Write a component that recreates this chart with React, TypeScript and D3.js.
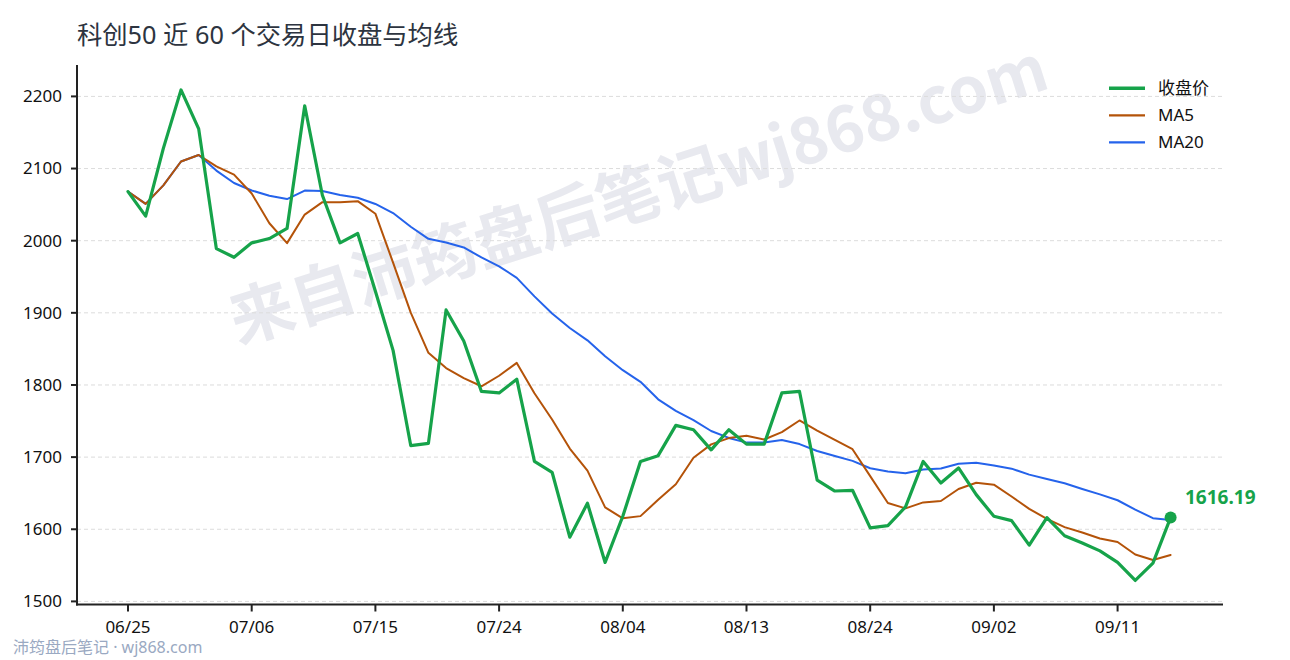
import React from 'react';
import * as d3 from 'd3';

const TITLE = '科创50 近 60 个交易日收盘与均线';
const WATERMARK = '来自沛筠盘后笔记wj868.com';
const FOOTER = '沛筠盘后笔记 · wj868.com';

const dates = [
  '06/25', '06/26', '06/29', '06/30', '07/01', '07/02', '07/03', '07/06', '07/07', '07/08',
  '07/09', '07/10', '07/13', '07/14', '07/15', '07/16', '07/17', '07/20', '07/21', '07/22',
  '07/23', '07/24', '07/27', '07/28', '07/29', '07/30', '07/31', '08/03', '08/04', '08/05',
  '08/06', '08/07', '08/10', '08/11', '08/12', '08/13', '08/14', '08/17', '08/18', '08/19',
  '08/20', '08/21', '08/24', '08/25', '08/26', '08/27', '08/28', '08/31', '09/01', '09/02',
  '09/03', '09/04', '09/07', '09/08', '09/09', '09/10', '09/11', '09/14', '09/15', '09/16',
];

const close = [
  2068, 2034, 2128, 2209, 2155, 1989, 1977, 1997, 2003, 2017,
  2187, 2063, 1997, 2010, 1930, 1848, 1716, 1719, 1904, 1861,
  1791, 1789, 1808, 1694, 1679, 1589, 1636, 1554, 1618, 1694,
  1702, 1744, 1738, 1710, 1738, 1718, 1718, 1789, 1791, 1668,
  1653, 1654, 1602, 1605, 1631, 1694, 1664, 1685, 1648, 1618,
  1612, 1578, 1616, 1591, 1581, 1570, 1554, 1529, 1553, 1616.19,
];

const ma5 = [
  2068.0, 2051.0, 2076.7, 2109.8, 2118.8, 2103.0, 2091.6, 2065.4, 2024.2, 1996.6,
  2036.2, 2053.4, 2053.4, 2054.8, 2037.4, 1969.6, 1900.2, 1844.6, 1823.4, 1809.6,
  1798.2, 1812.8, 1830.6, 1788.6, 1752.2, 1711.8, 1681.2, 1630.4, 1615.2, 1618.2,
  1640.8, 1662.4, 1699.2, 1717.6, 1726.4, 1729.6, 1724.4, 1734.6, 1750.8, 1736.8,
  1723.8, 1711.0, 1673.6, 1636.4, 1629.0, 1637.2, 1639.2, 1655.8, 1664.4, 1661.8,
  1645.4, 1628.2, 1614.4, 1603.0, 1595.6, 1587.2, 1582.4, 1565.0, 1557.4, 1564.4,
];

const ma20 = [
  2068.0, 2051.0, 2076.7, 2109.8, 2118.8, 2097.2, 2080.0, 2069.6, 2062.2, 2057.7,
  2069.5, 2068.9, 2063.4, 2059.6, 2050.9, 2038.3, 2019.3, 2002.6, 1997.4, 1990.6,
  1976.8, 1964.5, 1948.5, 1922.8, 1899.0, 1879.0, 1861.9, 1839.8, 1820.5, 1804.4,
  1780.1, 1764.2, 1751.2, 1736.2, 1726.6, 1720.1, 1720.2, 1723.7, 1718.1, 1708.4,
  1701.5, 1694.8, 1684.5, 1680.0, 1677.6, 1682.9, 1684.3, 1690.8, 1692.3, 1688.5,
  1684.0, 1675.7, 1669.6, 1663.7, 1655.8, 1648.4, 1640.2, 1627.2, 1615.3, 1612.7,
];

const yTicks = [1500, 1600, 1700, 1800, 1900, 2000, 2100, 2200];
const xTickLabels = ['06/25', '07/06', '07/15', '07/24', '08/04', '08/13', '08/24', '09/02', '09/11'];

const seriesNames = ['收盘价', 'MA5', 'MA20'];
const seriesColors = ['#16a34a', '#b45309', '#2563eb'];
const seriesWidths = [3.2, 2, 2];

const W = 1290;
const H = 660;
const LEFT = 77;
const RIGHT = 1223;
const TOP = 65;
const BOTTOM = 604.5;

const FONT = '"Noto Sans", "Noto Sans CJK SC", sans-serif';

export default function App() {
  const x = d3.scalePoint<string>().domain(dates).range([128, 1170.6]);
  const y = d3.scaleLinear().domain([1500, 2200]).range([601.4, 96.4]);

  const lineGen = (vals: number[]) =>
    d3
      .line<number>()
      .x((_, i) => x(dates[i]) as number)
      .y((d) => y(d))(vals) as string;

  const series = [close, ma5, ma20];
  const lastIdx = close.length - 1;
  const lastX = x(dates[lastIdx]) as number;
  const lastY = y(close[lastIdx]);

  return (
    <svg
      width={W}
      height={H}
      viewBox={`0 0 ${W} ${H}`}
      style={{ position: 'fixed', left: 0, top: 0, display: 'block', background: '#fff' }}
      fontFamily={FONT}
    >
      <rect x={0} y={0} width={W} height={H} fill="#ffffff" />

      {/* watermark */}
      <text
        transform="translate(645,216) rotate(-17.5)"
        textAnchor="middle"
        fontSize={64}
        fontWeight={700}
        fill="#e8e9ef"
        fontFamily='"Noto Sans CJK SC", "Noto Sans", sans-serif'
      >
        {WATERMARK}
      </text>

      {/* title */}
      <text x={77} y={44} fontSize={25.3} fill="#2d3440">
        {TITLE}
      </text>

      {/* grid */}
      {yTicks.map((t) => (
        <line
          key={'g' + t}
          x1={LEFT}
          x2={RIGHT}
          y1={y(t)}
          y2={y(t)}
          stroke="#dcdcdc"
          strokeWidth={1}
          strokeDasharray="4,3"
        />
      ))}

      {/* axes */}
      <line x1={LEFT} x2={LEFT} y1={TOP} y2={BOTTOM + 1} stroke="#222" strokeWidth={2} />
      <line x1={LEFT - 1} x2={RIGHT} y1={BOTTOM} y2={BOTTOM} stroke="#222" strokeWidth={2} />

      {yTicks.map((t) => (
        <g key={'yt' + t}>
          <line x1={LEFT - 6} x2={LEFT} y1={y(t)} y2={y(t)} stroke="#222" strokeWidth={2} />
          <text x={62} y={y(t)} dy="0.35em" textAnchor="end" fontSize={17} fill="#111">
            {t}
          </text>
        </g>
      ))}

      {xTickLabels.map((d) => (
        <g key={'xt' + d}>
          <line
            x1={x(d) as number}
            x2={x(d) as number}
            y1={BOTTOM}
            y2={BOTTOM + 7}
            stroke="#222"
            strokeWidth={2}
          />
          <text x={x(d) as number} y={633} textAnchor="middle" fontSize={17} fill="#111">
            {d}
          </text>
        </g>
      ))}

      {/* lines: MA20, MA5, close */}
      {[2, 1, 0].map((k) => (
        <path
          key={'s' + k}
          d={lineGen(series[k])}
          fill="none"
          stroke={seriesColors[k]}
          strokeWidth={seriesWidths[k]}
          strokeLinejoin="round"
          strokeLinecap="round"
        />
      ))}

      {/* end marker */}
      <circle cx={lastX} cy={lastY} r={6} fill={seriesColors[0]} />
      <text x={1185} y={504} fontSize={19} fontWeight={700} fill={seriesColors[0]}>
        {close[lastIdx].toFixed(2)}
      </text>

      {/* legend */}
      {seriesNames.map((n, i) => (
        <g key={'lg' + n} transform={`translate(1109, ${88.3 + i * 27})`}>
          <line
            x1={0}
            x2={36}
            y1={0}
            y2={0}
            stroke={seriesColors[i]}
            strokeWidth={i === 0 ? 3.5 : 2.2}
          />
          <text x={49} y={0} dy="0.35em" fontSize={17} fill="#111">
            {n}
          </text>
        </g>
      ))}

      {/* footer */}
      <text x={13} y={653} fontSize={16} fill="#9aa9c2">
        {FOOTER}
      </text>
    </svg>
  );
}
